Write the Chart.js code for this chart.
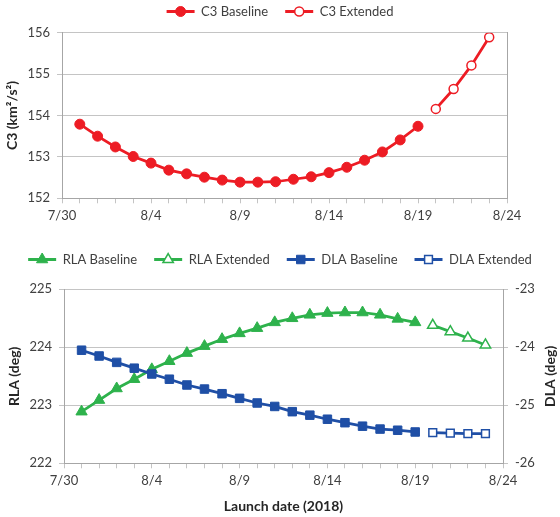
<!DOCTYPE html>
<html>
<head>
<meta charset="utf-8">
<script src="https://cdn.jsdelivr.net/npm/chart.js@4.4.0/dist/chart.umd.min.js"></script>
<style>
  html, body { margin: 0; padding: 0; background: #fff; }
  body { width: 560px; height: 517px; position: relative; overflow: hidden; }
  .box { position: absolute; left: 0; width: 560px; }
  #top { top: -12px; height: 242px; }
  #bottom { top: 230px; height: 287px; }
</style>
</head>
<body>
<div class="box" id="top"><canvas id="c3Chart"></canvas></div>
<div class="box" id="bottom"><canvas id="laChart"></canvas></div>
<script>
// launch dates, one per day
const dates = ['7/30', '7/31', '8/1', '8/2', '8/3', '8/4', '8/5', '8/6', '8/7', '8/8',
  '8/9', '8/10', '8/11', '8/12', '8/13', '8/14', '8/15', '8/16', '8/17', '8/18',
  '8/19', '8/20', '8/21', '8/22', '8/23', '8/24'];

// baseline runs 7/31 - 8/19, extended 8/20 - 8/23
const c3Baseline = [153.79, 153.50, 153.24, 153.01, 152.85, 152.68, 152.59, 152.51, 152.44, 152.39,
  152.39, 152.40, 152.46, 152.52, 152.62, 152.75, 152.92, 153.12, 153.41, 153.74];
const c3Extended = [154.16, 154.64, 155.21, 155.89];

const rlaBaseline = [222.89, 223.09, 223.29, 223.45, 223.62, 223.76, 223.90, 224.02, 224.14, 224.24,
  224.33, 224.43, 224.50, 224.56, 224.59, 224.60, 224.60, 224.56, 224.49, 224.43];
const rlaExtended = [224.38, 224.27, 224.16, 224.04];

const dlaBaseline = [-24.05, -24.15, -24.26, -24.36, -24.46, -24.55, -24.65, -24.72, -24.80, -24.88,
  -24.96, -25.02, -25.11, -25.17, -25.24, -25.30, -25.36, -25.41, -25.43, -25.46];
const dlaExtended = [-25.47, -25.48, -25.49, -25.49];

const baselineStart = dates.indexOf('7/31');
const extendedStart = dates.indexOf('8/20');

const red = '#ed1c24';
const green = '#2eb24c';
const blue = '#1f4fa6';
const textColor = '#404040';
const gridColor = '#c4c4c4';
const axisColor = '#a6a6a6';

Chart.defaults.font.family = "Lato, 'Liberation Sans', sans-serif";
Chart.defaults.font.size = 13;
Chart.defaults.color = textColor;

function pad(values, start) {
  const out = dates.map(() => null);
  values.forEach((v, i) => { out[start + i] = v; });
  return out;
}

function series(label, values, start, color, style, radius, hollow, order) {
  return {
    label: label,
    data: pad(values, start),
    borderColor: color,
    backgroundColor: color,
    borderWidth: 2.75,
    pointStyle: style,
    pointRadius: radius,
    pointHoverRadius: radius,
    pointBackgroundColor: hollow ? '#ffffff' : color,
    pointBorderColor: color,
    pointBorderWidth: hollow ? 1.5 : 1,
    tension: 0,
    spanGaps: false,
    order: order || 0
  };
}

// legend: line box + the dataset marker on top of it, extra gap under the legend
const legendMarkers = {
  id: 'legendMarkers',
  beforeLayout(chart, args, opts) {
    const legend = chart.legend;
    if (!legend || legend._patched) return;
    const fit = legend.fit;
    legend.fit = function () {
      fit.call(this);
      this.height += opts.extra || 0;
    };
    legend._patched = true;
  },
  afterDraw(chart) {
    const legend = chart.legend;
    const ctx = chart.ctx;
    const bw = legend.options.labels.boxWidth;
    legend.legendItems.forEach((item, i) => {
      const hit = legend.legendHitBoxes[i];
      const ds = chart.data.datasets[item.datasetIndex];
      ctx.save();
      ctx.fillStyle = ds.pointBackgroundColor;
      ctx.strokeStyle = ds.pointBorderColor;
      ctx.lineWidth = ds.pointBorderWidth;
      Chart.helpers.drawPoint(ctx, {
        pointStyle: ds.pointStyle,
        radius: ds.pointRadius,
        borderWidth: ds.pointBorderWidth,
        rotation: 0
      }, hit.left + bw / 2, hit.top + hit.height / 2);
      ctx.restore();
    });
  }
};

// right axis title, reading bottom to top like the left one
const rightTitle = {
  id: 'rightTitle',
  afterDraw(chart, args, opts) {
    if (!opts.text) return;
    const a = chart.chartArea;
    const ctx = chart.ctx;
    ctx.save();
    ctx.translate(opts.x, (a.top + a.bottom) / 2);
    ctx.rotate(-Math.PI / 2);
    ctx.font = "bold 14px Lato, 'Liberation Sans', sans-serif";
    ctx.fillStyle = '#262626';
    ctx.textAlign = 'center';
    ctx.textBaseline = 'middle';
    ctx.fillText(opts.text, 0, 0);
    ctx.restore();
  }
};

const legendLabels = {
  boxWidth: 28,
  boxHeight: 3,
  padding: 17,
  font: { size: 13 },
  color: textColor,
  sort: (a, b) => a.datasetIndex - b.datasetIndex,
  generateLabels(chart) {
    return Chart.defaults.plugins.legend.labels.generateLabels(chart).map(l =>
      Object.assign(l, { lineWidth: 0, fillStyle: l.strokeStyle }));
  }
};

function dateAxis(height, title) {
  return {
    type: 'category',
    offset: false,
    grid: { drawOnChartArea: false, drawTicks: true, tickLength: 5, color: gridColor },
    border: { color: axisColor },
    ticks: {
      autoSkip: false,
      maxRotation: 0,
      padding: 5,
      callback: (v, i) => (i % 5 === 0 ? dates[i] : '')
    },
    title: title ? {
      display: true, text: title, color: '#262626',
      font: { size: 14, weight: 'bold' }, padding: { top: 2, bottom: 2 }
    } : { display: false },
    afterFit(scale) { scale.height = height; }
  };
}

new Chart(document.getElementById('c3Chart'), {
  type: 'line',
  data: {
    labels: dates,
    datasets: [
      series('C3 Baseline', c3Baseline, baselineStart, red, 'circle', 5, false),
      series('C3 Extended', c3Extended, extendedStart, red, 'circle', 4.5, true)
    ]
  },
  options: {
    responsive: true,
    maintainAspectRatio: false,
    animation: false,
    devicePixelRatio: 1,
    layout: { padding: 0 },
    plugins: {
      legend: { position: 'top', labels: legendLabels },
      tooltip: { enabled: false },
      legendMarkers: { extra: 4.7 }
    },
    scales: {
      x: dateAxis(31.7),
      y: {
        min: 152, max: 156,
        ticks: { stepSize: 1, padding: 7 },
        grid: { color: gridColor, tickLength: 5 },
        border: { color: axisColor },
        title: {
          display: true, text: 'C3 (km²/s²)', color: '#262626',
          font: { size: 14, weight: 'bold' }, padding: { top: 4, bottom: 4 }
        },
        afterFit(scale) { scale.width = 62; }
      },
      // empty right axis: closes the plot frame
      yr: {
        position: 'right',
        min: 152, max: 156,
        ticks: { display: false },
        grid: { drawOnChartArea: false, drawTicks: false },
        border: { color: axisColor },
        afterFit(scale) { scale.width = 53; }
      }
    }
  },
  plugins: [legendMarkers]
});

new Chart(document.getElementById('laChart'), {
  type: 'line',
  data: {
    labels: dates,
    datasets: [
      Object.assign(series('RLA Baseline', rlaBaseline, baselineStart, green, 'triangle', 6.5, false, 1), { yAxisID: 'y' }),
      Object.assign(series('RLA Extended', rlaExtended, extendedStart, green, 'triangle', 6, true, 1), { yAxisID: 'y' }),
      Object.assign(series('DLA Baseline', dlaBaseline, baselineStart, blue, 'rect', 6, false, 0), { yAxisID: 'y1' }),
      Object.assign(series('DLA Extended', dlaExtended, extendedStart, blue, 'rect', 5.5, true, 0), { yAxisID: 'y1' })
    ]
  },
  options: {
    responsive: true,
    maintainAspectRatio: false,
    animation: false,
    devicePixelRatio: 1,
    layout: { padding: { left: 0, right: 0, top: 6, bottom: 0 } },
    plugins: {
      legend: { position: 'top', labels: legendLabels },
      tooltip: { enabled: false },
      legendMarkers: { extra: 13.3 },
      rightTitle: { text: 'DLA (deg)', x: 550 }
    },
    scales: {
      x: dateAxis(53.7, 'Launch date (2018)'),
      y: {
        position: 'left',
        min: 222, max: 225,
        ticks: { stepSize: 1, padding: 7 },
        grid: { color: gridColor, tickLength: 5 },
        border: { color: axisColor },
        title: {
          display: true, text: 'RLA (deg)', color: '#262626',
          font: { size: 14, weight: 'bold' }, padding: { top: 6, bottom: 4 }
        },
        afterFit(scale) { scale.width = 64; }
      },
      y1: {
        position: 'right',
        min: -26, max: -23,
        ticks: { stepSize: 1, padding: 7 },
        grid: { drawOnChartArea: false, color: gridColor, tickLength: 5 },
        border: { color: axisColor },
        afterFit(scale) { scale.width = 57; }
      }
    }
  },
  plugins: [legendMarkers, rightTitle]
});
</script>
</body>
</html>
